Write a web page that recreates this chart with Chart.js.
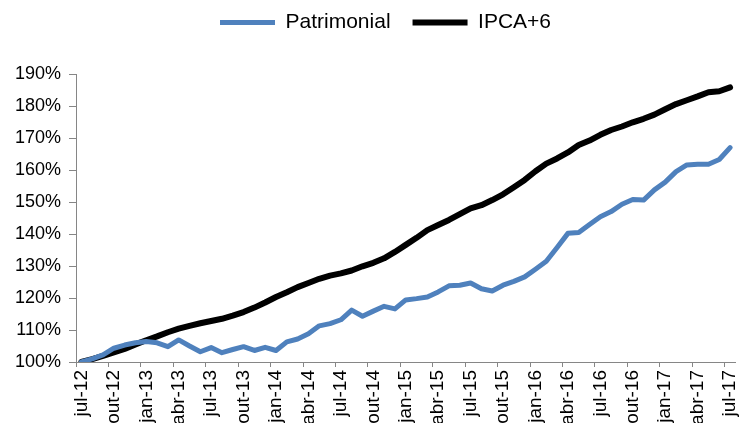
<!DOCTYPE html>
<html>
<head>
<meta charset="utf-8">
<script src="https://cdn.jsdelivr.net/npm/chart.js@4.4.0/dist/chart.umd.min.js"></script>
<style>
  html, body { margin: 0; padding: 0; background: #fff; overflow: hidden; }
  #wrap { width: 756px; height: 440px; position: relative; }
</style>
</head>
<body>
<div id="wrap"><canvas id="myChart"></canvas></div>
<script>
// months (jul-12 .. jul-17)
const months = [
  'jul-12','ago-12','set-12','out-12','nov-12','dez-12',
  'jan-13','fev-13','mar-13','abr-13','mai-13','jun-13','jul-13','ago-13','set-13','out-13','nov-13','dez-13',
  'jan-14','fev-14','mar-14','abr-14','mai-14','jun-14','jul-14','ago-14','set-14','out-14','nov-14','dez-14',
  'jan-15','fev-15','mar-15','abr-15','mai-15','jun-15','jul-15','ago-15','set-15','out-15','nov-15','dez-15',
  'jan-16','fev-16','mar-16','abr-16','mai-16','jun-16','jul-16','ago-16','set-16','out-16','nov-16','dez-16',
  'jan-17','fev-17','mar-17','abr-17','mai-17','jun-17','jul-17'
];

const patrimonial = [
  100.0, 101.0, 102.2, 104.3, 105.3, 106.0, 106.4, 106.0, 104.8, 106.9,
  105.0, 103.2, 104.5, 102.9, 103.9, 104.8, 103.6, 104.6, 103.6, 106.3,
  107.2, 108.8, 111.3, 112.0, 113.2, 116.2, 114.3, 115.9, 117.4, 116.6,
  119.4, 119.8, 120.3, 121.9, 123.8, 124.0, 124.7, 122.9, 122.2, 124.0,
  125.2, 126.6, 129.0, 131.5, 135.8, 140.2, 140.5, 143.0, 145.4, 147.0,
  149.3, 150.8, 150.6, 153.8, 156.2, 159.5, 161.6, 161.8, 161.8, 163.3, 167.0
];

const ipca6 = [
  100.0, 100.9, 101.9, 103.0, 104.1, 105.5, 106.8, 108.0, 109.3, 110.4,
  111.3, 112.1, 112.8, 113.5, 114.5, 115.6, 117.0, 118.6, 120.3, 121.8,
  123.4, 124.7, 126.0, 127.0, 127.7, 128.6, 129.9, 131.0, 132.4, 134.4,
  136.6, 138.8, 141.2, 142.8, 144.4, 146.2, 148.0, 149.0, 150.6, 152.4,
  154.6, 156.9, 159.6, 162.0, 163.6, 165.5, 167.8, 169.2, 171.0, 172.5,
  173.6, 174.9, 176.0, 177.3, 179.0, 180.6, 181.8, 183.0, 184.3, 184.6, 185.8
];

const yMin = 100;
const yMax = 190;
const yStep = 10;
const labelEvery = 3;

const axisGray = '#868686';

// push the plot down below the legend, nudge legend a bit right
const legendGap = {
  id: 'legendGap',
  beforeInit(chart) {
    const fit = chart.legend.fit;
    chart.legend.fit = function () {
      fit.bind(chart.legend)();
      this.height += 31;
    };
  },
  afterLayout(chart) {
    chart.legend.left += 8;
    chart.legend.right += 8;
  }
};

const data = {
  labels: months,
  datasets: [
    {
      label: 'Patrimonial',
      data: patrimonial,
      borderColor: '#4F81BD',
      backgroundColor: '#4F81BD',
      borderWidth: 5,
      borderCapStyle: 'round',
      borderJoinStyle: 'round',
      pointRadius: 0,
      tension: 0
    },
    {
      label: 'IPCA+6',
      data: ipca6,
      borderColor: '#000000',
      backgroundColor: '#000000',
      borderWidth: 6,
      borderCapStyle: 'round',
      borderJoinStyle: 'round',
      pointRadius: 0,
      tension: 0
    }
  ]
};

const config = {
  type: 'line',
  data: data,
  options: {
    responsive: true,
    maintainAspectRatio: false,
    animation: false,
    layout: { padding: { left: 14, right: 15, top: -10, bottom: 0 } },
    plugins: {
      tooltip: { enabled: false },
      legend: {
        position: 'top',
        labels: {
          usePointStyle: true,
          pointStyle: 'line',
          pointStyleWidth: 55,
          padding: 22,
          color: '#000',
          font: { family: '"Liberation Sans", Arial, sans-serif', size: 21 }
        }
      }
    },
    scales: {
      x: {
        offset: true,
        grid: {
          offset: true,
          drawOnChartArea: false,
          tickLength: 5,
          color: (ctx) => (ctx.index % labelEvery === 0 ? axisGray : 'rgba(0,0,0,0)')
        },
        border: { color: axisGray, width: 1 },
        ticks: {
          autoSkip: false,
          maxRotation: 90,
          minRotation: 90,
          padding: 3,
          color: '#000',
          font: { family: '"Liberation Sans", Arial, sans-serif', size: 19 },
          callback: function (val, index) {
            return index % labelEvery === 0 ? this.getLabelForValue(val) : '';
          }
        },
        afterFit: (scale) => { scale.height = 78; }
      },
      y: {
        min: yMin,
        max: yMax,
        grid: {
          drawOnChartArea: false,
          tickLength: 7,
          color: axisGray
        },
        border: { color: axisGray, width: 1 },
        ticks: {
          stepSize: yStep,
          padding: 8,
          color: '#000',
          font: { family: '"Liberation Sans", Arial, sans-serif', size: 18 },
          callback: (v) => v + '%'
        },
        afterFit: (scale) => { scale.width = 62; }
      }
    }
  },
  plugins: [legendGap]
};

const myChart = new Chart(document.getElementById('myChart'), config);
</script>
</body>
</html>
